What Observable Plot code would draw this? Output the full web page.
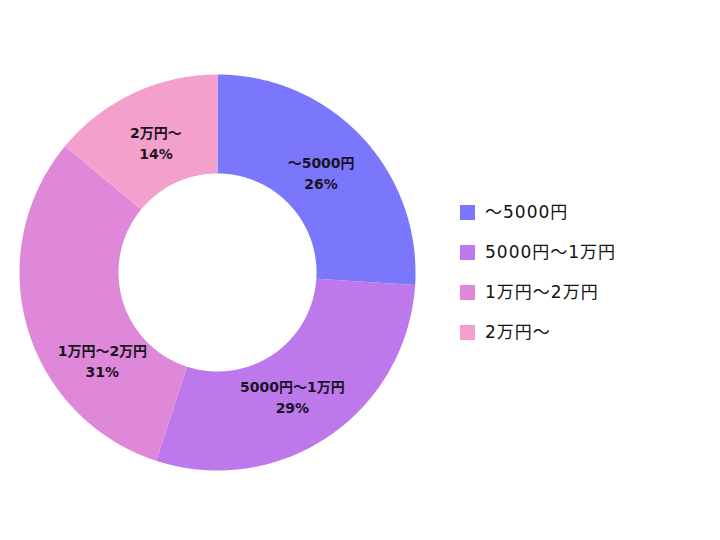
<!DOCTYPE html>
<html>
<head>
<meta charset="utf-8">
<script src="https://cdn.jsdelivr.net/npm/d3@7"></script>
<script src="https://cdn.jsdelivr.net/npm/@observablehq/plot@0.6"></script>
<style>
  html, body { margin: 0; padding: 0; background: #fff; }
  #wrap { position: relative; width: 720px; height: 540px; font-family: "DejaVu Sans", "Noto Sans CJK JP", sans-serif; }
  #legend { position: absolute; left: 460px; top: 202px; width: 250px; }
  .lg-swatches-columns .lg-swatch { height: 20px; padding-bottom: 20px; overflow: visible; }
  .lg-swatch > svg { margin-right: 10px; flex-shrink: 0; }
  .lg-swatch-label { font-size: 17px; letter-spacing: 1px; color: #111; font-family: "DejaVu Sans", "Noto Sans CJK JP", sans-serif; line-height: 20px; overflow: visible !important; white-space: nowrap; text-overflow: clip !important; }
</style>
</head>
<body>
<div id="wrap"><div id="chart"></div><div id="legend"></div></div>
<script>
// data
const categories = ["〜5000円", "5000円〜1万円", "1万円〜2万円", "2万円〜"];
const shares = [26, 29, 31, 14];
const colors = ["#7b77fd", "#bd78ec", "#df88da", "#f4a0cc"];

// layout constants (not data)
const innerFrac = 0.5;
const labelFrac = 0.73;
const labelAngleShift = [-1, 3, -21, 0]; // degrees, mimics label placement in reference

const rows = categories.map((c, i) => ({category: c, share: shares[i]}));
const arcs = d3.pie().sort(null).value(d => d.share)(rows);

function ring(a0, a1) {
  const n = Math.max(2, Math.ceil((a1 - a0) / 0.01));
  const outer = d3.range(n + 1).map(k => { const a = a0 + (a1 - a0) * k / n; return [Math.sin(a), Math.cos(a)]; });
  const inner = d3.range(n + 1).map(k => { const a = a1 - (a1 - a0) * k / n; return [innerFrac * Math.sin(a), innerFrac * Math.cos(a)]; });
  const pts = outer.concat(inner);
  pts.push(pts[0]);
  return pts;
}

const features = arcs.map(a => ({
  type: "Feature",
  properties: {category: a.data.category},
  geometry: {type: "Polygon", coordinates: [ring(a.startAngle, a.endAngle)]}
}));

const labels = arcs.map((a, i) => {
  const m = (a.startAngle + a.endAngle) / 2 + labelAngleShift[i] * Math.PI / 180;
  return {x: labelFrac * Math.sin(m), y: labelFrac * Math.cos(m), text: `${a.data.category}\n${a.data.share}%`};
});

const chart = Plot.plot({
  width: 720,
  height: 540,
  marginLeft: 19,
  marginTop: 74,
  marginRight: 305,
  marginBottom: 70,
  projection: {
    type: "reflect-y",
    domain: {type: "Polygon", coordinates: [[[-1, -1], [1, -1], [1, 1], [-1, 1], [-1, -1]]]}
  },
  color: {type: "ordinal", domain: categories, range: colors},
  style: {fontFamily: "'DejaVu Sans', 'Noto Sans CJK JP', sans-serif", background: "#fff"},
  marks: [
    Plot.geo(features, {fill: d => d.properties.category, stroke: "none"}),
    Plot.text(labels, {x: "x", y: "y", text: "text", fontSize: 14, fontWeight: "bold", fill: "#1a1422", lineHeight: 1.5, style: "letter-spacing: 1px"})
  ]
});
document.getElementById("chart").appendChild(chart);

const legend = Plot.legend({
  color: {type: "ordinal", domain: categories, range: colors},
  legend: "swatches",
  columns: 1,
  swatchSize: 15,
  className: "lg"
});
document.getElementById("legend").appendChild(legend);
</script>
</body>
</html>
